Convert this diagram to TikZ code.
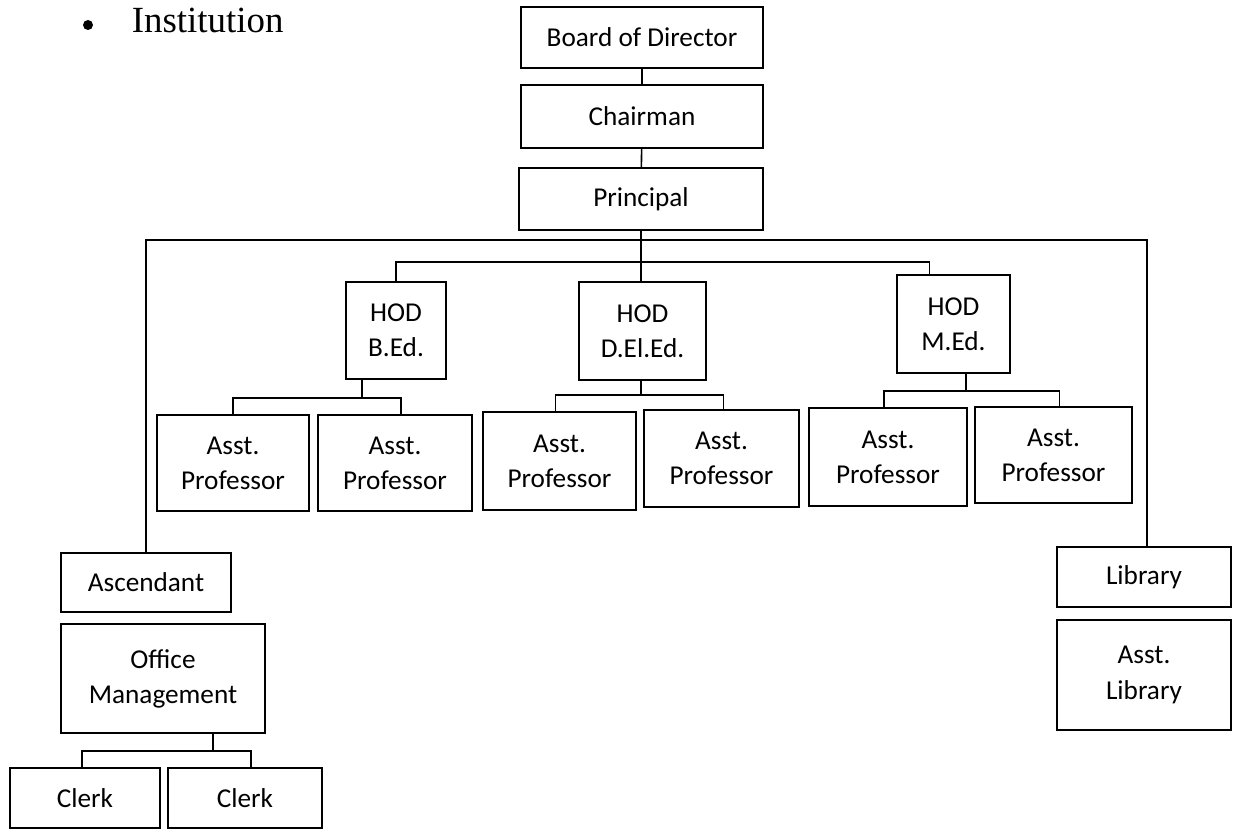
\documentclass[tikz,border=0pt]{standalone}
\usepackage{fontspec}
\setmainfont{Carlito}
\newfontfamily\titlefont{Liberation Serif}
\begin{document}
\begin{tikzpicture}[line width=0.9pt,box/.style={draw, align=center, inner sep=2pt, font=\fontsize{15.5}{20}\selectfont}]
    \useasboundingbox (0,0) rectangle (24.82,-16.58);
    \fill (1.76,-0.5) circle (0.1);
    \node[anchor=base west, inner sep=0pt, font=\titlefont\fontsize{21}{25}\selectfont] (title) at (2.62,-0.66) {Institution};
    \node[box, minimum width=4.84cm, minimum height=1.22cm] (bod) at (12.84,-0.75) {Board of Director};
    \node[box, minimum width=4.84cm, minimum height=1.26cm] (chair) at (12.84,-2.33) {Chairman};
    \node[box, minimum width=4.88cm, minimum height=1.24cm] (prin) at (12.82,-3.98) {Principal};
    \node[box, minimum width=2.00cm, minimum height=1.94cm] (hodb) at (7.92,-6.61) {HOD\\B.Ed.};
    \node[box, minimum width=2.54cm, minimum height=1.96cm] (hodd) at (12.85,-6.62) {HOD\\D.El.Ed.};
    \node[box, minimum width=2.26cm, minimum height=1.96cm] (hodm) at (19.07,-6.48) {HOD\\M.Ed.};
    \node[box, minimum width=3.04cm, minimum height=1.92cm] (ap1) at (4.66,-9.26) {Asst.\\Professor};
    \node[box, minimum width=3.08cm, minimum height=1.92cm] (ap2) at (7.90,-9.26) {Asst.\\Professor};
    \node[box, minimum width=3.06cm, minimum height=1.96cm] (ap3) at (11.19,-9.22) {Asst.\\Professor};
    \node[box, minimum width=3.10cm, minimum height=1.94cm] (ap4) at (14.43,-9.17) {Asst.\\Professor};
    \node[box, minimum width=3.16cm, minimum height=1.96cm] (ap5) at (17.76,-9.14) {Asst.\\Professor};
    \node[box, minimum width=3.14cm, minimum height=1.92cm] (ap6) at (21.07,-9.10) {Asst.\\Professor};
    \node[box, minimum width=3.40cm, minimum height=1.18cm] (asc) at (2.92,-11.65) {Ascendant};
    \node[box, minimum width=4.08cm, minimum height=2.18cm] (office) at (3.26,-13.57) {Office\\Management};
    \node[box, minimum width=3.00cm, minimum height=1.20cm] (clerk1) at (1.70,-15.96) {Clerk};
    \node[box, minimum width=3.08cm, minimum height=1.20cm] (clerk2) at (4.90,-15.96) {Clerk};
    \node[box, minimum width=3.48cm, minimum height=1.20cm] (lib) at (22.88,-11.54) {Library};
    \node[box, minimum width=3.48cm, minimum height=2.20cm] (alib) at (22.88,-13.50) {Asst.\\Library};
    \coordinate (obus) at (12.82,-4.80);
    \coordinate (ibus) at (12.82,-5.24);
    \coordinate (bbus) at (7.24,-7.96);
    \coordinate (dbus) at (12.82,-7.90);
    \coordinate (mbus) at (19.32,-7.82);
    \coordinate (obox) at (4.26,-15.02);
    \draw (bod) -- (chair) -- (prin);
    \draw (prin.south) -- (prin.south |- hodd.north);
    \draw (asc.north) |- (obus) -| ([xshift=0.06cm]lib.north);
    \draw (hodb.north) |- (ibus) -| ([xshift=-0.48cm]hodm.north);
    \draw (ap1.north) |- (bbus) -| ([xshift=0.12cm]ap2.north);
    \draw (bbus) -- (bbus |- hodb.south);
    \draw ([xshift=-0.08cm]ap3.north) |- (dbus) -| ([xshift=0.04cm]ap4.north);
    \draw (dbus) -- (dbus |- hodd.south);
    \draw ([xshift=-0.08cm]ap5.north) |- (mbus) -| ([xshift=0.12cm]ap6.north);
    \draw (mbus) -- (mbus |- hodm.south);
    \draw ([xshift=-0.06cm]clerk1.north) |- (obox) -| ([xshift=0.12cm]clerk2.north);
    \draw (obox) -- (obox |- office.south);
  \end{tikzpicture}
\end{document}
